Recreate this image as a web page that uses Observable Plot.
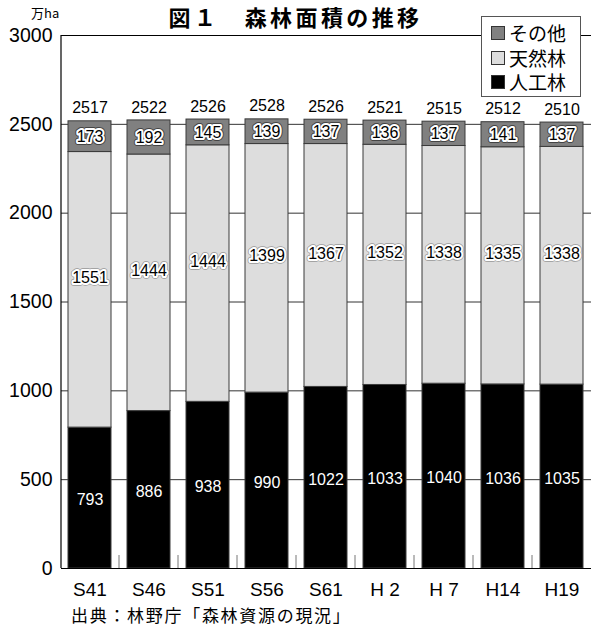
<!DOCTYPE html>
<html lang="ja">
<head>
<meta charset="utf-8">
<script src="https://cdn.jsdelivr.net/npm/d3@7"></script>
<script src="https://cdn.jsdelivr.net/npm/@observablehq/plot@0.6"></script>
<style>
  html, body { margin: 0; padding: 0; background: #fff; }
  #chart { position: relative; width: 591px; height: 626px; overflow: hidden; background: #fff; }
  #chart svg { position: absolute; left: 0; top: 0; }
  .jp { font-family: "Noto Sans CJK JP", "Noto Sans", sans-serif; color: #000; }
  #title { position: absolute; left: 0; top: 5px; width: 591px; text-align: center;
           font-size: 22px; line-height: 22px; font-weight: bold; letter-spacing: 3.4px; }
  #unit { position: absolute; left: 31px; top: 5px; font-size: 13px; line-height: 16px; }
  #legend { position: absolute; left: 481px; top: 16px; width: 98px; height: 79px;
            border: 1px solid #555; background: #fff; box-sizing: content-box; padding: 0; }
  #legend .row { position: absolute; left: 9px; height: 24px; display: flex; align-items: center;
                 font-size: 19px; line-height: 24px; }
  #legend .sw { width: 14px; height: 14px; border: 1px solid #333; margin-right: 4px; box-sizing: border-box; }
  #caption { position: absolute; left: 71px; top: 605px; font-size: 17px; line-height: 20px; letter-spacing: 1.7px; }
</style>
</head>
<body>
<div id="chart"></div>
<script>
// 森林面積の推移（万ha）
const years = ["S41", "S46", "S51", "S56", "S61", "H 2", "H 7", "H14", "H19"];
const plantedForest = [793, 886, 938, 990, 1022, 1033, 1040, 1036, 1035];   // 人工林
const naturalForest = [1551, 1444, 1444, 1399, 1367, 1352, 1338, 1335, 1338]; // 天然林
const otherArea = [173, 192, 145, 139, 137, 136, 137, 141, 137];            // その他
const totals = [2517, 2522, 2526, 2528, 2526, 2521, 2515, 2512, 2510];
const yTicks = [0, 500, 1000, 1500, 2000, 2500, 3000];
const seriesNames = ["人工林", "天然林", "その他"];
const seriesColors = ["#000000", "#dddddd", "#808080"];

const titleText = "図１　森林面積の推移";
const unitText = "万ha";
const captionText = "出典：林野庁「森林資源の現況」";

// stacked segments, bottom to top
const rows = [];
years.forEach((year, i) => {
  let lo = 0;
  [plantedForest[i], naturalForest[i], otherArea[i]].forEach((value, k) => {
    rows.push({year, series: seriesNames[k], value, lo, hi: lo + value, mid: lo + value / 2});
    lo += value;
  });
});
const bySeries = (name) => rows.filter((d) => d.series === name);

const W = 591, H = 600;
const mLeft = 61, mRight = 0, mTop = 35, mBottom = 32;
const padInner = 0.27, padOuter = 0.12;
const step = (W - mLeft - mRight) / (years.length - padInner + 2 * padOuter);

const numFont = "'Liberation Sans', Arial, Helvetica, sans-serif";

// left axis line, from the top of the y domain down to zero
const axisLine = (index, scales, values, dims) => {
  const y = scales.y;
  return d3.create("svg:line")
    .attr("x1", dims.marginLeft).attr("x2", dims.marginLeft)
    .attr("y1", y(yTicks[yTicks.length - 1])).attr("y2", y(0))
    .attr("stroke", "#000").attr("stroke-width", 1.2)
    .node();
};

// short ticks on the baseline, in the gaps between neighbouring bars
const gapTicks = (index, scales, values, dims) => {
  const x = scales.x, y = scales.y;
  const bw = typeof x.bandwidth === "function" ? x.bandwidth() : step * (1 - padInner);
  const g = d3.create("svg:g").attr("stroke", "#777").attr("stroke-width", 1);
  for (let i = 0; i < years.length - 1; i++) {
    const cx = (x(years[i]) + bw + x(years[i + 1])) / 2;
    g.append("line")
      .attr("x1", cx).attr("x2", cx)
      .attr("y1", y(0)).attr("y2", y(0) - 13);
  }
  return g.node();
};

const chart = Plot.plot({
  width: W,
  height: H,
  marginLeft: mLeft,
  marginRight: mRight,
  marginTop: mTop,
  marginBottom: mBottom,
  style: {fontFamily: numFont, background: "transparent", overflow: "visible"},
  x: {domain: years, paddingInner: padInner, paddingOuter: padOuter, label: null},
  y: {domain: [0, 3000], label: null},
  color: {domain: seriesNames, range: seriesColors},
  marks: [
    // grid lines behind the bars
    Plot.ruleY(yTicks.slice(1, -1), {stroke: "#333", strokeWidth: 1}),
    Plot.barY(rows, {x: "year", y1: "lo", y2: "hi", fill: "series", stroke: "#3a3a3a", strokeWidth: 1}),
    // top and bottom frame lines
    Plot.ruleY([yTicks[0], yTicks[yTicks.length - 1]], {stroke: "#000", strokeWidth: 1.2}),
    axisLine,
    gapTicks,
    Plot.axisY({ticks: yTicks, tickSize: 0, tickPadding: 9, fontSize: 19.5, tickFormat: (d) => String(d), fill: "#000"}),
    Plot.axisX({tickSize: 0, tickPadding: 14, fontSize: 19, fill: "#000"}),
    // totals above each bar
    Plot.text(years, {x: (d) => d, y: (d, i) => totals[i], text: (d, i) => String(totals[i]),
      dy: -13, fontSize: 16, fill: "#000"}),
    // その他 values (haloed)
    Plot.text(bySeries("その他"), {x: "year", y: "mid", text: (d) => String(d.value),
      fontSize: 16, fill: "#000", stroke: "#444", strokeWidth: 6, paintOrder: "stroke", strokeLinejoin: "round"}),
    Plot.text(bySeries("その他"), {x: "year", y: "mid", text: (d) => String(d.value),
      fontSize: 16, fill: "#000", stroke: "#fff", strokeWidth: 4, paintOrder: "stroke", strokeLinejoin: "round"}),
    // 天然林 values (haloed)
    Plot.text(bySeries("天然林"), {x: "year", y: "mid", text: (d) => String(d.value), dy: -12,
      fontSize: 16, fill: "#000", stroke: "#999", strokeWidth: 5.5, paintOrder: "stroke", strokeLinejoin: "round"}),
    Plot.text(bySeries("天然林"), {x: "year", y: "mid", text: (d) => String(d.value), dy: -12,
      fontSize: 16, fill: "#000", stroke: "#fff", strokeWidth: 4, paintOrder: "stroke", strokeLinejoin: "round"}),
    // 人工林 values
    Plot.text(bySeries("人工林"), {x: "year", y: "mid", text: (d) => String(d.value),
      dy: 2, fontSize: 16, fill: "#fff"})
  ]
});

const root = document.getElementById("chart");
root.appendChild(chart);

const title = document.createElement("div");
title.id = "title"; title.className = "jp"; title.textContent = titleText;
root.appendChild(title);

const unit = document.createElement("div");
unit.id = "unit"; unit.className = "jp"; unit.textContent = unitText;
root.appendChild(unit);

// legend, top series first
const legend = document.createElement("div");
legend.id = "legend"; legend.className = "jp";
[2, 1, 0].forEach((k, r) => {
  const row = document.createElement("div");
  row.className = "row";
  row.style.top = (4 + r * 24.5) + "px";
  const sw = document.createElement("span");
  sw.className = "sw";
  sw.style.background = seriesColors[k];
  const label = document.createElement("span");
  label.textContent = seriesNames[k];
  row.appendChild(sw); row.appendChild(label);
  legend.appendChild(row);
});
root.appendChild(legend);

const caption = document.createElement("div");
caption.id = "caption"; caption.className = "jp"; caption.textContent = captionText;
root.appendChild(caption);
</script>
</body>
</html>
